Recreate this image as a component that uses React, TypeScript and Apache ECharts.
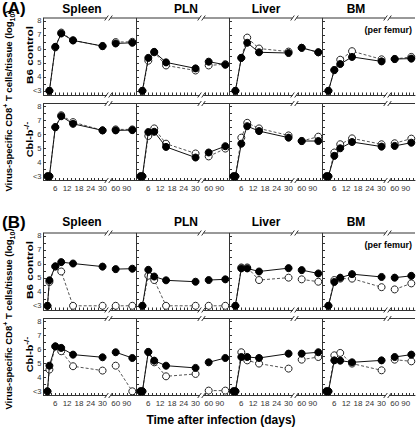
import { useEffect, useRef } from 'react';
import * as echarts from 'echarts';

// ---------- data ----------
const DAYS = [3, 6, 9, 15, 30, 60, 105];
const DAYS_EARLY = [2, 3, 6, 9, 15, 30, 60, 105];
const TISSUES = ['Spleen', 'PLN', 'Liver', 'BM'];
const SECTION_LABELS = ['(A)', '(B)'];
const X_LABELS_EARLY = [6, 12, 18, 24, 30];
const X_LABELS_LATE = [60, 90];
const Y_LABELS = [3, 4, 5, 6, 7, 8];

// (A) B6 control
const A_B6_SPLEEN_FILLED = [3.0, 6.14, 7.09, 6.6, 6.19, 6.38, 6.43];
const A_B6_SPLEEN_OPEN = [3.0, 6.1, 7.16, 6.6, 6.2, 6.48, 6.5];
const A_B6_PLN_FILLED = [3.0, 5.35, 5.78, 5.03, 4.6, 5.08, 4.86];
const A_B6_PLN_OPEN = [3.0, 5.15, 5.75, 4.81, 4.45, 4.81, 4.9];
const A_B6_LIVER_FILLED = [3.0, 5.35, 6.43, 5.75, 5.7, 6.07, 5.75];
const A_B6_LIVER_OPEN = [3.0, 5.35, 6.8, 6.02, 5.8, 6.07, 5.75];
const A_B6_BM_FILLED = [3.0, 4.48, 4.91, 5.42, 5.1, 5.27, 5.3];
const A_B6_BM_OPEN = [3.0, 4.48, 5.22, 5.83, 5.25, 5.27, 5.42];
// (A) Cbl-b-/-
const A_CBL_SPLEEN_FILLED = [3, 3, 6.51, 7.29, 6.75, 6.28, 6.28, 6.3];
const A_CBL_SPLEEN_OPEN = [3, 3, 6.51, 7.36, 6.87, 6.28, 6.35, 6.35];
const A_CBL_PLN_FILLED = [3, 3, 6.16, 6.18, 5.1, 4.34, 4.7, 5.15];
const A_CBL_PLN_OPEN = [3, 3, 5.88, 6.42, 5.33, 4.63, 4.42, 4.98];
const A_CBL_LIVER_FILLED = [3, 3, 5.33, 6.58, 6.23, 5.76, 5.52, 5.52];
const A_CBL_LIVER_OPEN = [3, 3, 5.76, 6.82, 6.42, 5.92, 5.52, 5.83];
const A_CBL_BM_FILLED = [3, 3, 4.46, 5.0, 5.45, 5.12, 5.17, 5.4];
const A_CBL_BM_OPEN = [3, 3, 4.7, 5.29, 5.71, 5.29, 5.36, 5.69];
// (B) B6 control
const B_B6_SPLEEN_FILLED = [3, 4.82, 5.82, 6.12, 6.02, 5.8, 5.62, 5.65];
const B_B6_SPLEEN_OPEN = [3, 4.7, 5.8, 5.45, 3, 3, 3, 3];
const B_B6_PLN_FILLED = [3, 5.57, 5.09, 4.82, 4.72, 4.84, 4.89];
const B_B6_PLN_OPEN = [3, 5.15, 4.84, 3, 3, 3, 3];
const B_B6_LIVER_FILLED = [3, 5.67, 5.67, 5.45, 5.69, 5.55, 5.31];
const B_B6_LIVER_OPEN = [3, 5.74, 5.74, 4.84, 5.01, 4.89, 4.72];
const B_B6_BM_FILLED = [3, 4.7, 5.01, 5.26, 5.06, 5.01, 5.14];
const B_B6_BM_OPEN = [3, 4.84, 4.94, 4.94, 4.33, 4.17, 4.6];
// (B) Cbl-b-/-
const B_CBL_SPLEEN_FILLED = [3, 4.83, 6.21, 6.1, 5.62, 5.43, 5.79, 5.38];
const B_CBL_SPLEEN_OPEN = [3, 4.55, 6.2, 5.86, 4.79, 4.48, 4.83, 3.0];
const B_CBL_PLN_FILLED = [3, 3, 5.81, 5.19, 4.83, 4.67, 5.07, 5.38];
const B_CBL_PLN_OPEN = [3, 3, 5.81, 5.07, 4.07, 4.24, 3.05, 3.05];
const B_CBL_LIVER_FILLED = [3, 3, 5.45, 5.45, 5.38, 5.69, 5.69, 5.79];
const B_CBL_LIVER_OPEN = [3, 3, 5.79, 5.21, 4.98, 4.62, 5.26, 5.45];
const B_CBL_BM_FILLED = [3, 3, 5.21, 5.19, 5.07, 5.21, 5.45, 5.62];
const B_CBL_BM_OPEN = [3, 3, 5.57, 5.74, 4.98, 4.5, 5.26, 5.14];

const PANELS = [
  { s: 0, r: 0, c: 0, days: DAYS, filled: A_B6_SPLEEN_FILLED, open: A_B6_SPLEEN_OPEN },
  { s: 0, r: 0, c: 1, days: DAYS, filled: A_B6_PLN_FILLED, open: A_B6_PLN_OPEN },
  { s: 0, r: 0, c: 2, days: DAYS, filled: A_B6_LIVER_FILLED, open: A_B6_LIVER_OPEN },
  { s: 0, r: 0, c: 3, days: DAYS, filled: A_B6_BM_FILLED, open: A_B6_BM_OPEN },
  { s: 0, r: 1, c: 0, days: DAYS_EARLY, filled: A_CBL_SPLEEN_FILLED, open: A_CBL_SPLEEN_OPEN },
  { s: 0, r: 1, c: 1, days: DAYS_EARLY, filled: A_CBL_PLN_FILLED, open: A_CBL_PLN_OPEN },
  { s: 0, r: 1, c: 2, days: DAYS_EARLY, filled: A_CBL_LIVER_FILLED, open: A_CBL_LIVER_OPEN },
  { s: 0, r: 1, c: 3, days: DAYS_EARLY, filled: A_CBL_BM_FILLED, open: A_CBL_BM_OPEN },
  { s: 1, r: 0, c: 0, days: DAYS_EARLY, filled: B_B6_SPLEEN_FILLED, open: B_B6_SPLEEN_OPEN },
  { s: 1, r: 0, c: 1, days: DAYS, filled: B_B6_PLN_FILLED, open: B_B6_PLN_OPEN },
  { s: 1, r: 0, c: 2, days: DAYS, filled: B_B6_LIVER_FILLED, open: B_B6_LIVER_OPEN },
  { s: 1, r: 0, c: 3, days: DAYS, filled: B_B6_BM_FILLED, open: B_B6_BM_OPEN },
  { s: 1, r: 1, c: 0, days: DAYS_EARLY, filled: B_CBL_SPLEEN_FILLED, open: B_CBL_SPLEEN_OPEN },
  { s: 1, r: 1, c: 1, days: DAYS_EARLY, filled: B_CBL_PLN_FILLED, open: B_CBL_PLN_OPEN },
  { s: 1, r: 1, c: 2, days: DAYS_EARLY, filled: B_CBL_LIVER_FILLED, open: B_CBL_LIVER_OPEN },
  { s: 1, r: 1, c: 3, days: DAYS_EARLY, filled: B_CBL_BM_FILLED, open: B_CBL_BM_OPEN },
];

// ---------- layout ----------
const PANEL_X = [43.5, 136.5, 229.5, 322.5];
const ROW_Y = [[18, 103.5], [233, 318.5]];
const PLOT_H = 77;
const SEG_OFF = [0, 67];
const SEG_W = [63, 25.5];
const X_DOMAIN = [[0, 32], [46, 115]];
const Y_MIN = 2.7;
const Y_MAX = 8.2;
const TITLE_X = [82, 186, 266, 356];
const TITLE_Y = [8.5, 222];
const FONT = '"Liberation Sans", Arial, Helvetica, sans-serif';
const AXIS_COLOR = '#333';

function buildOption() {
  const grid: any[] = [];
  const xAxis: any[] = [];
  const yAxis: any[] = [];
  const series: any[] = [];
  const graphic: any[] = [];

  const line = (x1: number, y1: number, x2: number, y2: number) => ({
    type: 'line',
    silent: true,
    shape: { x1, y1, x2, y2 },
    style: { stroke: AXIS_COLOR, lineWidth: 1 },
  });

  PANELS.forEach((p) => {
    for (let g = 0; g < 2; g++) {
      const idx = grid.length;
      const left = PANEL_X[p.c] + SEG_OFF[g];
      const top = ROW_Y[p.s][p.r];
      grid.push({ left, top, width: SEG_W[g], height: PLOT_H });
      const [xmin, xmax] = X_DOMAIN[g];
      const tickVals: number[] = [];
      if (g === 0) for (let d = 2; d <= 30; d += 2) tickVals.push(d);
      else for (let d = 50; d <= 110; d += 10) tickVals.push(d);
      xAxis.push({
        type: 'value',
        gridIndex: idx,
        min: xmin,
        max: xmax,
        axisLine: { show: true, onZero: false, lineStyle: { color: AXIS_COLOR, width: 1 } },
        axisTick: { show: true, inside: true, length: 2.5, customValues: tickVals, lineStyle: { color: AXIS_COLOR } },
        axisLabel: {
          show: p.r === 1,
          customValues: g === 0 ? X_LABELS_EARLY : X_LABELS_LATE,
          fontSize: 8,
          color: '#333',
          fontFamily: FONT,
          margin: 4,
        },
        splitLine: { show: false },
      });
      const yTicks: number[] = [];
      for (let v = 3; v <= 8; v += 0.5) yTicks.push(v);
      yAxis.push({
        type: 'value',
        gridIndex: idx,
        min: Y_MIN,
        max: Y_MAX,
        show: g === 0,
        axisLine: { show: true, lineStyle: { color: AXIS_COLOR, width: 1 } },
        axisTick: { show: true, inside: true, length: 2.5, customValues: yTicks, lineStyle: { color: AXIS_COLOR } },
        axisLabel: {
          show: p.c === 0,
          customValues: Y_LABELS,
          formatter: (v: number) => (v === 3 ? '<3' : String(v)),
          fontSize: 7.5,
          color: '#333',
          fontFamily: FONT,
          margin: 2,
        },
        splitLine: { show: false },
      });
      const pick = (vals: number[]) =>
        p.days
          .map((d, i) => [d, vals[i]])
          .filter(([d]) => (g === 0 ? d <= xmax : d >= xmin));
      series.push({
        type: 'line',
        xAxisIndex: idx,
        yAxisIndex: idx,
        data: pick(p.open),
        symbol: 'circle',
        symbolSize: 7,
        showAllSymbol: true,
        z: 2,
        itemStyle: { color: '#fff', borderColor: '#222', borderWidth: 1 },
        lineStyle: { color: '#555', width: 1, type: [3, 2] },
        emphasis: { disabled: true },
      });
      series.push({
        type: 'line',
        xAxisIndex: idx,
        yAxisIndex: idx,
        data: pick(p.filled),
        symbol: 'circle',
        symbolSize: 7,
        showAllSymbol: true,
        z: 3,
        itemStyle: { color: '#000', borderColor: '#000', borderWidth: 1 },
        lineStyle: { color: '#111', width: 1 },
        emphasis: { disabled: true },
      });

      // top border + break marks
      const right = left + SEG_W[g];
      const bottom = top + PLOT_H;
      graphic.push(line(left, top, right, top));
      const bx = g === 0 ? right : left;
      graphic.push(line(bx - 1.8, top + 2.5, bx + 1.8, top - 2.5));
      graphic.push(line(bx - 1.8, bottom + 2.5, bx + 1.8, bottom - 2.5));
    }
  });

  const text = (x: number, y: number, str: string, font: string, extra: any = {}) => ({
    type: 'text',
    silent: true,
    x,
    y,
    ...extra,
    style: {
      text: str,
      font,
      fill: '#000',
      align: 'center',
      verticalAlign: 'middle',
      ...(extra.style || {}),
    },
  });

  for (let s = 0; s < 2; s++) {
    graphic.push(
      text(2, TITLE_Y[s], SECTION_LABELS[s], `bold 17px ${FONT}`, { style: { align: 'left' } })
    );
    TISSUES.forEach((t, c) => {
      graphic.push(text(TITLE_X[c], TITLE_Y[s], t, `bold 12px ${FONT}`));
    });
    graphic.push(
      text(412, ROW_Y[s][0] + 12, '(per femur)', `bold 9px ${FONT}`, { style: { align: 'right' } })
    );
    // row labels
    graphic.push(
      text(30, ROW_Y[s][0] + 37, 'B6 control', `bold 9px ${FONT}`, { rotation: Math.PI / 2, scaleX: 1.3 })
    );
    graphic.push({
      type: 'text',
      silent: true,
      x: 29.5,
      y: ROW_Y[s][1] + 36,
      rotation: Math.PI / 2,
      scaleX: 1.2,
      style: {
        text: '{b|Cbl-b}{sup|-/-}',
        align: 'center',
        verticalAlign: 'middle',
        rich: {
          b: { font: `bold 9px ${FONT}`, fill: '#000', lineHeight: 13 },
          sup: { font: `bold 7px ${FONT}`, fill: '#000', verticalAlign: 'top' },
        },
      },
    });
    // y title
    graphic.push({
      type: 'text',
      silent: true,
      x: 8.5,
      y: s === 0 ? 101 : 319,
      rotation: Math.PI / 2,
      style: {
        text: '{b|Virus-specific CD8}{sup|+}{b| T cells/tissue (log}{sub|10}{b|)}',
        align: 'center',
        verticalAlign: 'middle',
        rich: {
          b: { font: `bold 9.5px ${FONT}`, fill: '#000', lineHeight: 14 },
          sup: { font: `bold 7px ${FONT}`, fill: '#000', verticalAlign: 'top' },
          sub: { font: `bold 7px ${FONT}`, fill: '#000', verticalAlign: 'bottom' },
        },
      },
    });
  }
  graphic.push(text(221, 420, 'Time after infection (days)', `bold 12px ${FONT}`));

  return {
    animation: false,
    backgroundColor: '#fff',
    grid,
    xAxis,
    yAxis,
    series,
    graphic,
  };
}

export default function App() {
  const ref = useRef<HTMLDivElement>(null);
  useEffect(() => {
    if (!ref.current) return;
    const chart = echarts.init(ref.current, undefined, { renderer: 'svg' });
    chart.setOption(buildOption() as any);
    return () => chart.dispose();
  }, []);
  return (
    <div
      ref={ref}
      style={{ position: 'fixed', left: 0, top: 0, width: 416, height: 428, background: '#fff' }}
    />
  );
}
